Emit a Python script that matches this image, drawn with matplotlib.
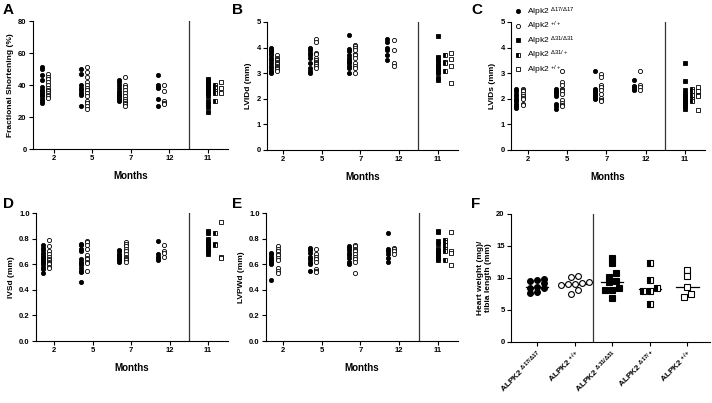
import numpy as np
import matplotlib
matplotlib.use("Agg")
import matplotlib.pyplot as plt
from matplotlib.lines import Line2D

plt.rcParams['font.family'] = ['Liberation Sans', 'DejaVu Sans']
plt.rcParams['mathtext.fontset'] = 'custom'
plt.rcParams['mathtext.rm'] = 'Liberation Sans'
plt.rcParams['mathtext.it'] = 'Liberation Sans'
plt.rcParams['mathtext.bf'] = 'Liberation Sans:bold'
plt.rcParams['mathtext.default'] = 'regular'

months = ["2", "5", "7", "12"]
month_old = "11"

# A: fractional shortening (%), Alpk2 d17/d17 and +/+ at 2,5,7,12 months
fs_ko = [[51, 50, 46, 43, 39, 37, 36, 35, 34, 33, 31, 30, 29],
         [50, 47, 40, 38, 37, 35, 34, 27],
         [43, 42, 40, 38, 36, 35, 34, 33, 32, 31, 30],
         [46, 40, 39, 38, 31, 27]]
fs_wt = [[47, 45, 44, 42, 40, 38, 37, 36, 35, 34, 33, 32],
         [51, 48, 45, 42, 40, 38, 37, 35, 33, 30, 29, 27, 25],
         [45, 40, 39, 37, 35, 33, 31, 30, 29, 28, 27],
         [40, 36, 30, 29, 28]]
fs_d31 = [44, 43, 42, 41, 40, 39, 38, 37, 36, 35, 33, 30, 28, 26, 23]
fs_het = [40, 39, 38, 36, 35, 30]
fs_wt11 = [42, 38, 35]

# B: LVIDd (mm)
lvidd_ko = [[4.0, 3.9, 3.85, 3.8, 3.7, 3.6, 3.5, 3.4, 3.3, 3.2, 3.1, 3.05, 3.0],
            [4.0, 3.9, 3.8, 3.7, 3.6, 3.4, 3.2, 3.1, 3.0],
            [4.5, 3.95, 3.85, 3.7, 3.6, 3.5, 3.45, 3.4, 3.3, 3.2, 3.0],
            [4.35, 4.2, 4.0, 3.9, 3.7, 3.5]]
lvidd_wt = [[3.7, 3.6, 3.55, 3.5, 3.45, 3.4, 3.35, 3.3, 3.25, 3.2, 3.15, 3.1],
            [4.35, 4.2, 3.8, 3.75, 3.6, 3.5, 3.45, 3.4, 3.35, 3.3, 3.2],
            [4.1, 4.05, 4.0, 3.9, 3.75, 3.7, 3.6, 3.4, 3.3, 3.2, 3.0],
            [4.3, 3.9, 3.4, 3.3]]
lvidd_d31 = [4.45, 3.65, 3.6, 3.5, 3.4, 3.3, 3.2, 3.1, 3.0, 2.8, 2.75]
lvidd_het = [3.7, 3.45, 3.4, 3.1]
lvidd_wt11 = [3.8, 3.55, 3.3, 2.6]

# C: LVIDs (mm)
lvids_ko = [[2.4, 2.3, 2.2, 2.1, 2.0, 1.95, 1.9, 1.8, 1.75, 1.7, 1.65],
            [2.4, 2.3, 2.25, 2.2, 2.1, 1.8, 1.7, 1.6],
            [3.1, 2.4, 2.3, 2.25, 2.2, 2.15, 2.1, 2.05, 2.0],
            [2.75, 2.5, 2.45, 2.4, 2.35]]
lvids_wt = [[2.4, 2.35, 2.3, 2.2, 2.1, 2.05, 2.0, 1.8, 1.75],
            [3.1, 2.65, 2.55, 2.4, 2.35, 2.3, 2.2, 1.95, 1.85, 1.75, 1.7],
            [2.95, 2.85, 2.55, 2.45, 2.35, 2.2, 2.05, 1.95, 1.9],
            [3.1, 2.55, 2.45, 2.35]]
lvids_d31 = [3.4, 2.7, 2.35, 2.2, 2.1, 2.0, 1.95, 1.9, 1.85, 1.8, 1.7, 1.6]
lvids_het = [2.4, 2.3, 2.15, 2.0, 1.9]
lvids_wt11 = [2.45, 2.3, 2.15, 2.1, 1.55]

# D: IVSd (mm)
ivsd_ko = [[0.75, 0.73, 0.71, 0.69, 0.67, 0.66, 0.65, 0.64, 0.63, 0.62, 0.61, 0.60, 0.58, 0.56, 0.53],
           [0.76, 0.75, 0.72, 0.70, 0.64, 0.62, 0.61, 0.59, 0.57, 0.55, 0.54, 0.46],
           [0.71, 0.70, 0.68, 0.67, 0.66, 0.65, 0.64, 0.63, 0.62],
           [0.78, 0.68, 0.66, 0.65, 0.63]]
ivsd_wt = [[0.79, 0.74, 0.70, 0.68, 0.66, 0.64, 0.63, 0.62, 0.61, 0.60, 0.58, 0.57],
           [0.78, 0.77, 0.75, 0.72, 0.67, 0.65, 0.64, 0.62, 0.61, 0.55],
           [0.77, 0.76, 0.74, 0.72, 0.70, 0.68, 0.66, 0.65, 0.64, 0.63, 0.62],
           [0.75, 0.70, 0.69, 0.66]]
ivsd_d31 = [0.86, 0.84, 0.80, 0.78, 0.76, 0.74, 0.72, 0.70, 0.68]
ivsd_het = [0.84, 0.76, 0.75]
ivsd_wt11 = [0.93, 0.66, 0.65]

# E: LVPWd (mm)
lvpwd_ko = [[0.69, 0.68, 0.66, 0.64, 0.63, 0.62, 0.61, 0.60, 0.48],
            [0.73, 0.71, 0.69, 0.66, 0.64, 0.62, 0.60, 0.55],
            [0.74, 0.73, 0.71, 0.69, 0.67, 0.65, 0.62, 0.60],
            [0.84, 0.72, 0.70, 0.68, 0.65, 0.62]]
lvpwd_wt = [[0.74, 0.72, 0.70, 0.68, 0.67, 0.65, 0.63, 0.57, 0.55, 0.53],
            [0.72, 0.68, 0.66, 0.64, 0.62, 0.56, 0.55, 0.54],
            [0.75, 0.74, 0.72, 0.71, 0.70, 0.68, 0.66, 0.64, 0.62, 0.53],
            [0.73, 0.72, 0.70, 0.68]]
lvpwd_d31 = [0.86, 0.85, 0.78, 0.76, 0.72, 0.70, 0.69, 0.68, 0.67, 0.66, 0.65, 0.63]
lvpwd_het = [0.79, 0.77, 0.75, 0.72, 0.70, 0.63]
lvpwd_wt11 = [0.85, 0.70, 0.69, 0.59]

# F: heart weight / tibia length
hw_groups = [r"ALPK2 $^{\Delta17/\Delta17}$", r"ALPK2 $^{+/+}$", r"ALPK2 $^{\Delta31/\Delta31}$",
             r"ALPK2 $^{\Delta17/+}$", r"ALPK2 $^{+/+}$"]
hw_ko = [9.9, 9.7, 9.6, 9.2, 8.6, 8.5, 8.4, 7.8, 7.7]
hw_wt = [10.3, 10.1, 9.3, 9.2, 9.1, 9.0, 8.9, 8.2, 7.5]
hw_d31 = [13.2, 12.3, 10.8, 10.1, 9.6, 9.3, 8.4, 8.2, 8.1, 6.8]
hw_het = [12.4, 9.7, 8.5, 8.0, 7.9, 6.0]
hw_wt11 = [11.2, 10.3, 8.6, 7.5, 7.0]

legend_labels = [r"Alpk2 $^{\Delta17/\Delta17}$", r"Alpk2 $^{+/+}$", r"Alpk2 $^{\Delta31/\Delta31}$",
                 r"Alpk2 $^{\Delta31/+}$", r"Alpk2 $^{+/+}$"]

W, H = 712, 403
fig = plt.figure(figsize=(W / 100, H / 100), dpi=100)

styles = [dict(marker='o', mfc='black', mec='black'),
          dict(marker='o', mfc='white', mec='black'),
          dict(marker='s', mfc='black', mec='black'),
          dict(marker='s', mfc='black', mec='black', fillstyle='left', mfcalt='white'),
          dict(marker='s', mfc='white', mec='black')]


def make_ax(l, r, t, b):
    return fig.add_axes([l / W, 1 - b / H, (r - l) / W, (b - t) / H])


def style_ax(ax):
    for s in ['top', 'right']:
        ax.spines[s].set_visible(False)
    for s in ['left', 'bottom']:
        ax.spines[s].set_linewidth(0.8)
    ax.tick_params(length=3, width=0.8, labelsize=5.5, pad=1.5)
    for lab in ax.get_xticklabels() + ax.get_yticklabels():
        lab.set_fontweight('bold')


def month_panel(ax, ko, wt, d31, het, wt11, ylim, yticks, ylabel, ticklabels, xleft):
    for i in range(4):
        ax.plot([i - 0.3] * len(ko[i]), ko[i], ls='none', ms=3, mew=0.6, **styles[0])
        ax.plot([i - 0.14] * len(wt[i]), wt[i], ls='none', ms=3, mew=0.6, **styles[1])
    ax.plot([4.0] * len(d31), d31, ls='none', ms=3.2, mew=0.6, **styles[2])
    ax.plot([4.18] * len(het), het, ls='none', ms=3.2, mew=0.6, **styles[3])
    ax.plot([4.35] * len(wt11), wt11, ls='none', ms=3.2, mew=0.6, **styles[4])
    ax.axvline(3.5, color='#333333', lw=0.9)
    ax.set_xlim(xleft, 4.52)
    ax.set_ylim(*ylim)
    ax.set_yticks(yticks)
    ax.set_yticklabels(ticklabels)
    ax.set_xticks(range(5))
    ax.set_xticklabels(months + [month_old])
    ax.set_xlabel("Months", fontsize=7, fontweight='bold', labelpad=6)
    ax.set_ylabel(ylabel, fontsize=6, fontweight='bold', labelpad=3)
    ax.spines['left'].set_bounds(ylim[0], ylim[1])
    style_ax(ax)


axA = make_ax(33, 228, 21, 149)
month_panel(axA, fs_ko, fs_wt, fs_d31, fs_het, fs_wt11, (0, 80), [0, 20, 40, 60, 80],
            "Fractional Shortening (%)", ["0", "20", "40", "60", "80"], -0.54)
axB = make_ax(267, 458, 22, 150)
month_panel(axB, lvidd_ko, lvidd_wt, lvidd_d31, lvidd_het, lvidd_wt11, (0, 5), range(6),
            "LVIDd (mm)", [str(v) for v in range(6)], -0.41)
axC = make_ax(511, 705, 22, 150)
month_panel(axC, lvids_ko, lvids_wt, lvids_d31, lvids_het, lvids_wt11, (0, 5), range(6),
            "LVIDs (mm)", [str(v) for v in range(6)], -0.44)
dticks = [0, 0.2, 0.4, 0.6, 0.8, 1.0]
axD = make_ax(36, 228, 213, 341)
month_panel(axD, ivsd_ko, ivsd_wt, ivsd_d31, ivsd_het, ivsd_wt11, (0, 1), dticks,
            "IVSd (mm)", [f"{v:.1f}" for v in dticks], -0.47)
axE = make_ax(266, 458, 213, 341)
month_panel(axE, lvpwd_ko, lvpwd_wt, lvpwd_d31, lvpwd_het, lvpwd_wt11, (0, 1), dticks,
            "LVPWd (mm)", [f"{v:.1f}" for v in dticks], -0.44)

# legend in C
handles = [Line2D([], [], ls='none', ms=3, mew=0.6, **s) for s in styles]
axC.legend(handles, legend_labels, loc='upper left', bbox_to_anchor=(0.02, 1.13),
           frameon=False, fontsize=6, handlelength=0.8, handletextpad=0.6,
           labelspacing=0.15, borderaxespad=0, borderpad=0)


# F: points binned in rows and spread sideways (Prism style)
def row_spread(vals, center, bin_y, step_px, px_per_x):
    vals = np.asarray(vals, dtype=float)
    order = np.argsort(vals)
    xs = np.zeros(len(vals))
    rows = []
    for i in order:
        if rows and vals[i] - vals[rows[-1][0]] < bin_y:
            rows[-1].append(i)
        else:
            rows.append([i])
    for row in rows:
        n = len(row)
        for k, i in enumerate(row):
            xs[i] = center + (k - (n - 1) / 2) * step_px / px_per_x
    return xs


axF = make_ax(511, 710, 214, 342)
px_x = 37.5
for i, (vals, st) in enumerate(zip([hw_ko, hw_wt, hw_d31, hw_het, hw_wt11], styles)):
    xs = row_spread(vals, i, 0.75, 7, px_x)
    axF.plot(xs, vals, ls='none', ms=4.2, mew=0.8, **st)
    med = np.median(vals)
    axF.plot([i - 0.3, i + 0.3], [med, med], color='black', lw=0.9, zorder=1)
axF.axvline(1.5, color='#333333', lw=0.9)
axF.set_xlim(-0.69, 4.6)
axF.set_ylim(0, 20)
axF.set_yticks([0, 5, 10, 15, 20])
axF.set_xticks(range(5))
axF.set_xticklabels(hw_groups, rotation=45, ha='right', rotation_mode='anchor')
axF.set_ylabel("Heart weight (mg)/\ntibia length (mm)", fontsize=6, fontweight='bold', labelpad=3)
style_ax(axF)
for lab in axF.get_xticklabels():
    lab.set_fontsize(6)

# panel letters
for letter, x, y in [("A", 3, 3), ("B", 232, 3), ("C", 471, 3),
                     ("D", 3, 197), ("E", 232, 197), ("F", 471, 197)]:
    fig.text(x / W, 1 - y / H, letter, fontsize=11, fontweight='bold', va='top', ha='left')

fig.savefig("out.png", dpi=100)
